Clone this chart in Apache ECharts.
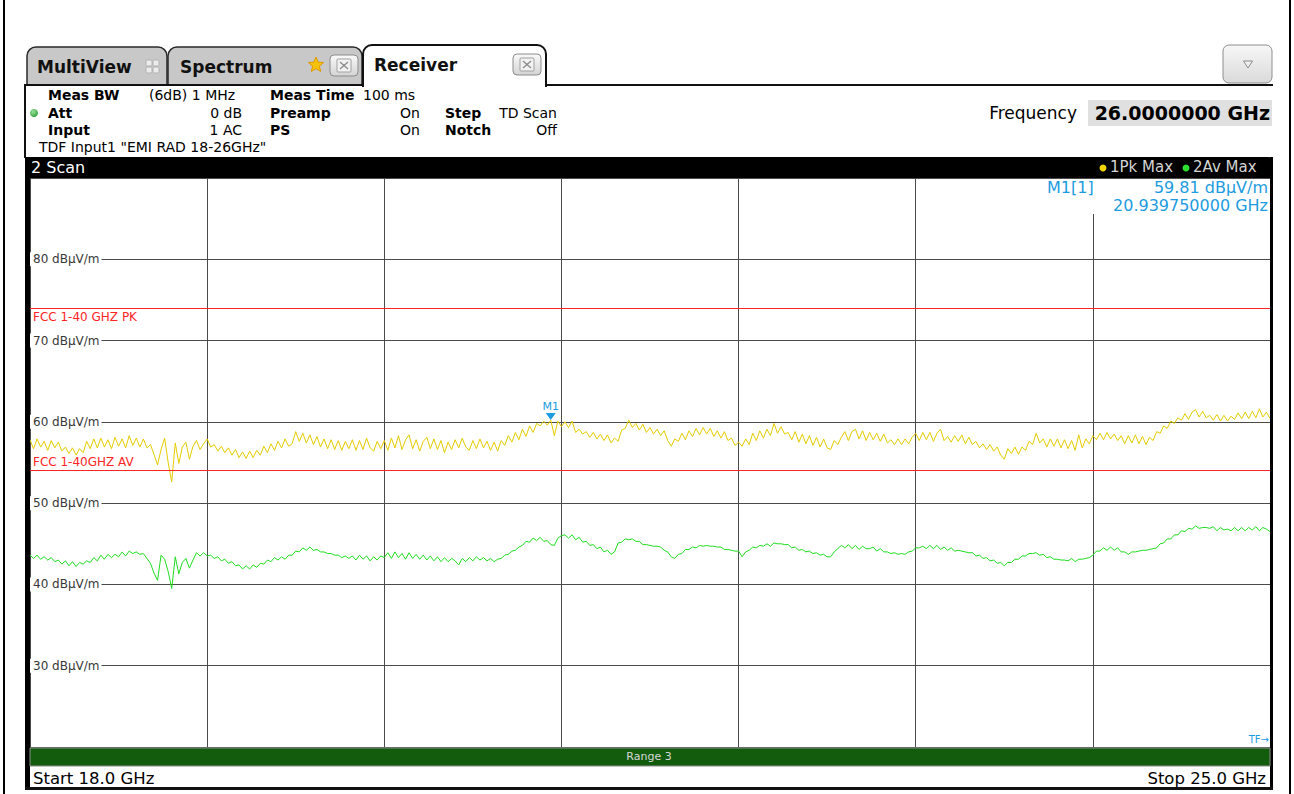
<!DOCTYPE html>
<html><head><meta charset="utf-8">
<script src="https://cdn.jsdelivr.net/npm/echarts@6/dist/echarts.min.js"></script>
<style>html,body{margin:0;padding:0;background:#fff;overflow:hidden}#c{width:1294px;height:794px}</style>
</head><body><div id="c"></div>
<script>
// ---------------- data ----------------
const X_MIN = 18.0, X_MAX = 25.0, X_INTERVAL = 1;
const Y_MIN = 20, Y_MAX = 90, Y_INTERVAL = 10;
const F_START = 18.0, F_STEP = 0.02;   // scan sampling grid (GHz)
const UNIT = 'dBµV/m';
const LIMIT_PK = 74, LIMIT_AV = 54;
const LIMIT_PK_NAME = 'FCC 1-40 GHZ PK', LIMIT_AV_NAME = 'FCC 1-40GHZ AV';
const MARKER_F = 20.93975, MARKER_V = 59.81;
const CENTER_FREQ = '26.0000000 GHz';

// trace 1: 1Pk Max (dBµV/m), one value per F_STEP
const pkValues = [
57.8,56.7,57.9,56.9,57.6,56.5,57.7,56.8,57.5,56.4,
56.9,56.1,56.8,55.9,56.7,56.2,57.6,56.7,57.9,56.8,
58.0,56.9,57.8,56.7,58.1,57.0,57.9,56.8,58.3,57.1,
58.0,56.9,57.9,56.8,57.2,56.0,54.7,56.6,58.0,55.0,
52.6,57.4,54.9,56.9,57.5,55.4,57.0,57.7,56.6,57.3,
57.9,56.9,57.2,56.4,57.0,56.2,56.8,55.9,56.6,55.6,
56.3,55.5,56.4,55.6,56.5,55.9,57.0,56.2,57.3,56.5,
57.6,56.8,57.9,57.0,57.3,58.8,57.6,58.6,57.4,58.4,
57.2,58.2,56.9,57.9,56.7,57.8,56.6,57.7,56.5,57.6,
56.7,57.8,56.5,57.7,56.6,58.0,56.8,56.4,57.6,56.7,
57.7,56.5,58.0,56.8,58.3,56.6,57.8,58.4,56.7,57.8,
56.4,57.6,58.1,56.7,57.9,56.6,57.7,56.2,57.5,56.6,
57.8,56.8,58.0,56.9,56.5,57.7,56.7,57.9,56.8,57.6,
56.5,57.5,56.4,57.7,57.1,58.3,57.5,58.7,57.8,59.1,
58.2,59.5,58.7,59.8,59.5,60.1,59.6,60.2,58.3,60.1,
59.4,60.0,59.3,60.1,58.7,59.1,58.5,58.8,58.1,58.7,
57.9,58.5,57.7,58.4,57.4,58.0,57.6,59.0,59.2,60.2,
59.3,59.8,59.0,59.7,58.7,59.3,58.5,59.1,58.3,58.9,
57.7,57.0,57.9,57.6,58.6,57.8,58.9,58.2,59.2,58.4,
59.3,58.5,59.2,58.2,58.9,58.0,58.8,57.7,58.0,57.1,
57.5,57.0,57.9,57.2,58.6,57.7,58.9,58.0,59.1,58.3,
59.8,58.6,59.4,58.5,58.7,57.8,58.8,57.5,58.5,57.3,
58.3,57.1,58.1,56.9,57.9,56.8,56.6,57.7,57.2,58.1,
58.8,57.7,58.8,59.1,57.9,58.9,57.7,58.7,57.8,58.6,
57.6,58.5,57.4,57.8,57.2,57.9,57.2,57.9,57.3,58.1,
58.6,57.7,58.7,57.8,58.7,57.6,58.6,59.1,57.7,58.2,
57.5,58.3,57.6,58.4,57.3,58.1,57.2,57.6,56.8,57.3,
56.6,57.2,56.4,56.9,55.9,55.4,56.7,56.1,56.9,56.0,
56.9,56.5,57.6,57.2,58.6,57.4,57.9,56.9,57.9,57.0,
57.9,56.8,57.8,56.7,57.7,56.5,58.4,56.8,57.9,57.3,
58.3,57.8,58.6,57.8,58.7,57.9,58.5,57.7,58.3,57.3,
58.3,57.4,58.4,57.3,58.2,57.2,58.1,57.7,58.8,58.6,
59.5,59.2,60.1,59.8,60.5,60.2,61.0,60.3,61.2,61.5,
60.6,61.3,60.5,60.8,60.2,60.9,60.1,60.8,60.1,60.7,
60.3,61.1,60.4,61.2,60.4,61.3,60.5,61.6,60.6,61.2,
60.4
];

// trace 2: 2Av Max (dBµV/m)
const avValues = [
43.6,43.2,43.6,43.1,43.4,43.0,43.3,42.8,43.0,42.5,
42.9,42.3,42.8,42.2,42.7,42.5,42.9,42.7,43.3,42.9,
43.6,43.1,43.7,43.3,43.7,43.4,44.0,43.5,44.1,43.8,
44.0,43.7,43.8,43.2,42.6,41.4,40.5,43.6,43.1,41.6,
39.5,43.4,41.3,42.7,43.2,42.0,43.0,43.9,43.5,43.9,
43.5,43.6,43.2,43.4,42.9,43.1,42.6,42.8,42.3,42.4,
41.9,42.3,41.9,42.4,42.1,42.6,42.5,43.0,42.8,43.3,
43.0,43.4,43.1,43.6,43.6,44.1,44.0,44.5,44.2,44.6,
44.2,44.3,44.0,44.0,43.8,43.8,43.6,43.6,43.3,43.5,
43.2,43.5,43.0,43.6,43.1,43.5,42.9,43.4,43.0,43.5,
43.3,43.9,43.2,44.0,43.3,43.8,43.1,43.9,43.2,43.7,
43.1,43.6,43.0,43.5,42.9,43.4,42.8,43.3,42.8,43.2,
42.9,42.4,43.2,42.8,43.3,42.9,43.4,43.0,43.3,42.9,
43.2,42.8,43.1,43.2,43.6,43.7,44.1,44.2,44.6,44.8,
45.3,45.2,45.7,45.4,45.8,45.3,45.4,44.9,44.8,45.7,
46.0,46.1,45.7,46.1,45.5,45.8,45.2,45.3,44.8,44.9,
44.4,44.6,44.0,44.2,43.7,44.0,45.1,45.2,45.6,45.5,
45.6,45.3,45.3,44.9,44.9,44.8,44.7,44.7,44.6,44.2,
44.0,43.4,43.2,43.7,43.8,44.3,44.3,44.6,44.5,44.8,
44.7,44.8,44.7,44.7,44.6,44.6,44.3,44.3,44.2,44.1,
44.1,43.4,44.0,44.2,44.6,44.5,44.8,44.7,45.0,44.7,
45.1,45.0,45.0,44.9,44.9,44.5,44.6,44.2,44.3,44.0,
44.1,43.8,43.9,43.6,43.7,43.4,43.4,44.0,44.4,44.8,
44.5,44.9,44.4,44.8,44.3,44.7,44.4,44.4,44.6,44.1,
44.4,44.0,44.0,43.8,43.9,43.7,43.8,43.7,44.0,44.1,
44.5,44.5,44.7,44.4,44.8,44.4,44.8,44.3,44.6,44.2,
44.5,44.1,44.2,44.1,44.0,43.9,43.9,43.5,43.6,43.2,
43.3,42.9,43.0,42.6,42.7,42.3,42.7,42.7,43.1,43.1,
43.5,43.5,43.8,43.8,43.9,43.6,43.7,43.3,43.4,43.1,
43.1,43.0,43.0,42.9,43.2,42.8,43.1,43.1,43.2,43.3,
43.6,44.1,44.1,44.5,44.2,44.6,44.2,44.5,44.0,44.0,
43.7,44.0,44.0,44.1,44.2,44.2,44.3,44.4,44.5,45.0,
45.1,45.6,45.6,46.1,46.1,46.6,46.5,46.9,46.8,47.2,
46.9,47.0,47.0,46.9,47.1,46.6,47.0,46.7,46.8,46.6,
47.0,46.6,47.0,46.6,47.0,46.7,47.1,46.6,47.0,46.8,
46.5
];

// ---------------- build ----------------
const FONT = "'DejaVu Sans', Verdana, sans-serif";
const BLUE = '#1d9be0';
const toPairs = vals => vals.map((v, i) => [+(F_START + i * F_STEP).toFixed(3), v]);

function T(x, y, text, o) {
  o = o || {};
  const st = {
    text: text, fill: o.fill || '#000',
    fontSize: o.size || 14, fontWeight: o.bold ? 'bold' : 'normal', fontFamily: FONT,
    align: o.align || 'left', textAlign: o.align || 'left',
    verticalAlign: 'middle', textVerticalAlign: 'middle'
  };
  return { type: 'text', x: x, y: y, z: 120, silent: true, style: st };
}
function R(x, y, w, h, fill, stroke, lw, r, z) {
  return { type: 'rect', z: z || 110, silent: true,
    shape: { x: x, y: y, width: w, height: h, r: r || 0 },
    style: { fill: fill, stroke: stroke || null, lineWidth: lw || 0 } };
}
function L(x1, y1, x2, y2, color, w, z) {
  return { type: 'line', z: z || 112, silent: true,
    shape: { x1: x1, y1: y1, x2: x2, y2: y2 },
    style: { stroke: color, lineWidth: w || 1 } };
}
function starPts(cx, cy, r1, r2) {
  const p = [];
  for (let k = 0; k < 10; k++) {
    const a = -Math.PI / 2 + k * Math.PI / 5, r = k % 2 ? r2 : r1;
    p.push([cx + r * Math.cos(a), cy + r * Math.sin(a)]);
  }
  return p;
}
function closeBtn(x, y) {
  return [
    R(x, y, 28, 21, { type: 'linear', x: 0, y: 0, x2: 0, y2: 1, colorStops: [{ offset: 0, color: '#fafafa' }, { offset: 1, color: '#d4d4d4' }] }, '#8c8c8c', 1, 4, 121),
    R(x + 7, y + 4, 14, 13, '#f2f2f2', '#a0a0a0', 1, 1, 122),
    L(x + 10, y + 7, x + 18, y + 14, '#8a8a8a', 1.3, 123),
    L(x + 18, y + 7, x + 10, y + 14, '#8a8a8a', 1.3, 123)
  ];
}

const g = [];
// outer frame lines
g.push(R(3, 0, 2, 794, '#000'));
g.push(R(1289, 0, 2, 794, '#000'));
// tabs
g.push(R(27, 47, 140, 38, '#c8c8c8', '#2a2a2a', 1.5, [9, 9, 0, 0], 115));
g.push(R(168, 47, 194, 38, '#c8c8c8', '#2a2a2a', 1.5, [9, 9, 0, 0], 115));
g.push(R(363, 45, 183, 41, '#ffffff', '#111', 2, [9, 9, 0, 0], 116));
g.push(L(25, 85, 363, 85, '#111', 2, 117));
g.push(L(546, 85, 1273, 85, '#111', 2, 117));
g.push(L(364, 85.5, 545, 85.5, '#fff', 3, 118));
g.push(L(25, 84, 25, 158, '#111', 2, 117));
g.push(T(37, 67, 'MultiView', { bold: true, size: 17, fill: '#111' }));
[[146, 60], [153, 60], [146, 67], [153, 67]].forEach(p => g.push(R(p[0], p[1], 6, 6, '#ececec', '#b0b0b0', 1, 1.5, 121)));
g.push(T(180, 67, 'Spectrum', { bold: true, size: 17, fill: '#111' }));
g.push({ type: 'polygon', z: 121, silent: true, shape: { points: starPts(316, 65, 8, 3.6) }, style: { fill: '#f4c20d', stroke: '#e09a00', lineWidth: 1 } });
closeBtn(330, 55).forEach(e => g.push(e));
g.push(T(374, 65, 'Receiver', { bold: true, size: 17, fill: '#111' }));
closeBtn(513, 54).forEach(e => g.push(e));
// dropdown button
g.push(R(1223, 45, 49, 38, { type: 'linear', x: 0, y: 0, x2: 0, y2: 1, colorStops: [{ offset: 0, color: '#f7f7f7' }, { offset: 1, color: '#dadada' }] }, '#8e8e8e', 1, 6, 115));
g.push({ type: 'polygon', z: 121, silent: true, shape: { points: [[1243.5, 61], [1252.5, 61], [1248, 68]] }, style: { fill: '#f0f0f0', stroke: '#8a8a8a', lineWidth: 1 } });

// settings panel
const c1 = 48, c2r = 242, c3 = 270, c4r = 420, c5 = 445, c6r = 557;
const r1 = 95, r2 = 113, r3 = 130, r4 = 147;
g.push(T(c1, r1, 'Meas BW', { bold: true })); g.push(T(149, r1, '(6dB) 1 MHz'));
g.push(T(c3, r1, 'Meas Time', { bold: true })); g.push(T(363, r1, '100 ms'));
g.push({ type: 'circle', z: 121, silent: true, shape: { cx: 34, cy: r2, r: 4 }, style: { fill: { type: 'radial', x: 0.4, y: 0.35, r: 0.7, colorStops: [{ offset: 0, color: '#9be39b' }, { offset: 1, color: '#2e9b3a' }] } } });
g.push(T(c1, r2, 'Att', { bold: true })); g.push(T(c2r, r2, '0 dB', { align: 'right' }));
g.push(T(c3, r2, 'Preamp', { bold: true })); g.push(T(c4r, r2, 'On', { align: 'right' }));
g.push(T(c5, r2, 'Step', { bold: true })); g.push(T(c6r, r2, 'TD Scan', { align: 'right' }));
g.push(T(c1, r3, 'Input', { bold: true })); g.push(T(c2r, r3, '1 AC', { align: 'right' }));
g.push(T(c3, r3, 'PS', { bold: true })); g.push(T(c4r, r3, 'On', { align: 'right' }));
g.push(T(c5, r3, 'Notch', { bold: true })); g.push(T(c6r, r3, 'Off', { align: 'right' }));
g.push(T(39, r4, 'TDF Input1 "EMI RAD 18-26GHz"'));
g.push(T(1077, 113, 'Frequency', { size: 17, align: 'right' }));
g.push(R(1088, 100, 184, 26, '#e0e0e0', null, 0, 0, 115));
g.push(T(1270, 113, CENTER_FREQ, { bold: true, size: 19, align: 'right' }));

// window frame
g.push(R(26, 157, 1247, 21, '#000', null, 0, [5, 5, 0, 0], 110));
g.push(T(31, 167, '2 Scan', { size: 16, fill: '#fff' }));
g.push({ type: 'circle', z: 121, silent: true, shape: { cx: 1103, cy: 168, r: 3.5 }, style: { fill: '#f0d400' } });
g.push(T(1110, 167, '1Pk Max', { size: 15, fill: '#d4d4d4' }));
g.push({ type: 'circle', z: 121, silent: true, shape: { cx: 1186, cy: 168, r: 3.5 }, style: { fill: '#2ee02e' } });
g.push(T(1193, 167, '2Av Max', { size: 15, fill: '#d4d4d4' }));
g.push(R(25, 157, 5, 633, '#000'));
g.push(R(1270, 157, 3, 633, '#000'));
g.push(R(25, 787, 1248, 3, '#111'));
// marker readout
g.push(R(1040, 179, 229, 35, '#fff', null, 0, 0, 105));
g.push(T(1047, 187, 'M1[1]', { size: 16, fill: BLUE }));
g.push(T(1268, 187, MARKER_V.toFixed(2) + ' ' + UNIT, { size: 16, fill: BLUE, align: 'right' }));
g.push(T(1268, 205, MARKER_F.toFixed(9) + ' GHz', { size: 16, fill: BLUE, align: 'right' }));
g.push(T(1269, 739, 'TF→', { size: 10, fill: BLUE, align: 'right' }));
// range bar + start/stop
g.push(R(30, 748, 1240, 18, '#135c0e', '#8f8f8f', 1, 0, 110));
g.push(T(649, 756, 'Range 3', { size: 11, fill: '#d8d8d8', align: 'center' }));
g.push(T(33, 778, 'Start ' + X_MIN.toFixed(1) + ' GHz', { size: 16.5 }));
g.push(T(1266, 778, 'Stop ' + X_MAX.toFixed(1) + ' GHz', { size: 16.5, align: 'right' }));

const chart = echarts.init(document.getElementById('c'), null, { renderer: 'svg' });
chart.setOption({
  animation: false,
  backgroundColor: '#fff',
  grid: { left: 30, right: 24, top: 178, bottom: 47, containLabel: false },
  xAxis: {
    type: 'value', min: X_MIN, max: X_MAX, interval: X_INTERVAL,
    axisLine: { show: false }, axisTick: { show: false }, axisLabel: { show: false },
    splitLine: { show: true, lineStyle: { color: '#4a4a4a', width: 1 } }
  },
  yAxis: {
    type: 'value', min: Y_MIN, max: Y_MAX, interval: Y_INTERVAL,
    axisLine: { show: false }, axisTick: { show: false },
    splitLine: { show: true, lineStyle: { color: '#4a4a4a', width: 1 } },
    axisLabel: {
      inside: true, margin: 0, showMinLabel: false, showMaxLabel: false,
      color: '#383838', fontSize: 12, fontFamily: FONT,
      backgroundColor: '#fff', padding: [1, 2, 1, 3],
      formatter: v => v + ' ' + UNIT
    }
  },
  series: [
    {
      name: '2Av Max', type: 'line', data: toPairs(avValues), showSymbol: false, symbol: 'none',
      lineStyle: { color: '#1fdc1f', width: 1 }, z: 3, silent: true
    },
    {
      name: '1Pk Max', type: 'line', data: toPairs(pkValues), showSymbol: false, symbol: 'none',
      lineStyle: { color: '#e4cc00', width: 1 }, z: 4, silent: true,
      markLine: {
        silent: true, symbol: ['none', 'none'], animation: false,
        lineStyle: { color: '#ff2424', type: 'solid', width: 1 },
        label: { color: '#ff2424', fontSize: 12, fontFamily: FONT, formatter: '{b}', distance: 3 },
        emphasis: { disabled: true },
        data: [
          { name: LIMIT_PK_NAME, yAxis: LIMIT_PK, label: { position: 'insideStartBottom' } },
          { name: LIMIT_AV_NAME, yAxis: LIMIT_AV, label: { position: 'insideStartTop' } }
        ]
      },
      markPoint: {
        silent: true, animation: false,
        symbol: 'triangle', symbolRotate: 180, symbolSize: [10, 7], symbolOffset: [0, -7],
        itemStyle: { color: BLUE },
        label: { show: true, position: 'top', distance: 1, formatter: 'M1', color: BLUE, fontSize: 11, fontFamily: FONT },
        data: [{ name: 'M1', coord: [MARKER_F, MARKER_V] }]
      }
    }
  ],
  graphic: { elements: g }
});
</script>
</body></html>
